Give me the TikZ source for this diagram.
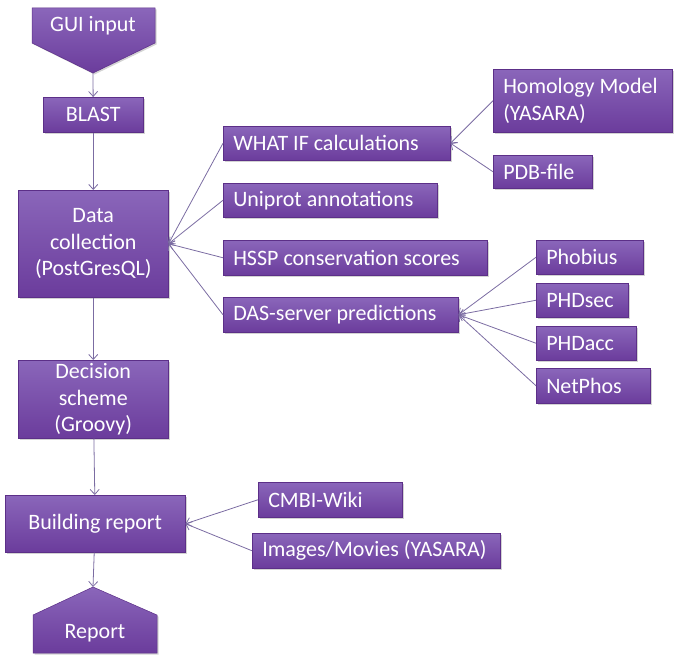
\documentclass[tikz,border=0pt]{standalone}
\usepackage{fontspec}
\setmainfont{Carlito}
\usetikzlibrary{arrows.meta,shadows}

\definecolor{boxtop}{HTML}{8A66BA}
\definecolor{boxbot}{HTML}{6B3C9C}
\definecolor{boxedge}{HTML}{5C2F88}
\definecolor{linec}{HTML}{7B6CA2}

\begin{document}
\begin{tikzpicture}[x=1pt, y=-1pt,
  shade/.style={top color=boxtop, bottom color=boxbot, draw=boxedge, line width=0.5pt,
    drop shadow={opacity=0.35, shadow xshift=1.5pt, shadow yshift=-1.5pt}},
  txt/.style={text=white, font=\fontsize{22}{26.5}\selectfont},
  mainbox/.style={shade, txt, anchor=north west, align=center, inner sep=0pt},
  sidebox/.style={shade, txt, anchor=north west, align=flush left, inner xsep=10pt, inner ysep=0pt},
  conn/.style={draw=linec, line width=0.8pt, -{Straight Barb[length=5pt, width=9pt]}}]

  \useasboundingbox (0,0) rectangle (685,661);

  % start and end shapes
  \path[shade] (32,8) -- (155,8) -- (155,43) -- (93,73) -- (32,43) -- cycle;
  \coordinate (guitip) at (93,73);
  \node[txt] (gui) at (93,26) {GUI input};

  \path[shade] (93,587) -- (157,615) -- (157,653) -- (33,653) -- (33,615) -- cycle;
  \coordinate (reptop) at (93,587);
  \node[txt] (report) at (95,633) {Report};

  % main column
  \node[mainbox, minimum width=100pt, minimum height=35pt] (blast) at (43,97) {BLAST};
  \node[mainbox, minimum width=150pt, minimum height=107pt] (data) at (18,190) {Data\\collection\\(PostGresQL)};
  \node[mainbox, minimum width=150pt, minimum height=78pt] (decision) at (18,360) {Decision\\scheme\\(Groovy)};
  \node[mainbox, minimum width=180pt, minimum height=57pt] (build) at (5,495) {Building report};

  % data sources
  \node[sidebox, text width=207pt, minimum height=34pt] (whatif) at (223,126) {WHAT IF calculations};
  \node[sidebox, text width=194pt, minimum height=34pt] (uniprot) at (223,183) {Uniprot annotations};
  \node[sidebox, text width=244pt, minimum height=35pt] (hssp) at (223,240) {HSSP conservation scores};
  \node[sidebox, text width=215pt, minimum height=35pt] (das) at (223,297) {DAS-server predictions};

  \node[sidebox, text width=159pt, minimum height=63pt] (homology) at (493,69) {Homology Model\\(YASARA)};
  \node[sidebox, text width=79pt, minimum height=33pt] (pdb) at (493,155) {PDB-file};

  \node[sidebox, text width=87pt, minimum height=34pt] (phobius) at (536,240) {Phobius};
  \node[sidebox, text width=72pt, minimum height=34pt] (phdsec) at (536,283) {PHDsec};
  \node[sidebox, text width=80pt, minimum height=34pt] (phdacc) at (536,326) {PHDacc};
  \node[sidebox, text width=94pt, minimum height=35pt] (netphos) at (536,368) {NetPhos};

  \node[sidebox, text width=124pt, minimum height=35pt] (cmbi) at (258,482) {CMBI-Wiki};
  \node[sidebox, text width=228pt, minimum height=35pt] (images) at (252,533) {Images/Movies (YASARA)};

  % connectors
  \draw[conn] (guitip) -- (blast);
  \draw[conn] (blast) -- (data);
  \draw[conn] (data) -- (decision);
  \draw[conn] (decision) -- (build);
  \draw[conn] (build) -- (reptop);

  \draw[conn] (whatif.west) -- (data.east);
  \draw[conn] (uniprot.west) -- (data.east);
  \draw[conn] (hssp.west) -- (data.east);
  \draw[conn] (das.west) -- (data.east);

  \draw[conn] (homology.west) -- (whatif.east);
  \draw[conn] (pdb.west) -- (whatif.east);

  \draw[conn] (phobius.west) -- (das.east);
  \draw[conn] (phdsec.west) -- (das.east);
  \draw[conn] (phdacc.west) -- (das.east);
  \draw[conn] (netphos.west) -- (das.east);

  \draw[conn] (cmbi.west) -- (build.east);
  \draw[conn] (images.west) -- (build.east);

\end{tikzpicture}
\end{document}
